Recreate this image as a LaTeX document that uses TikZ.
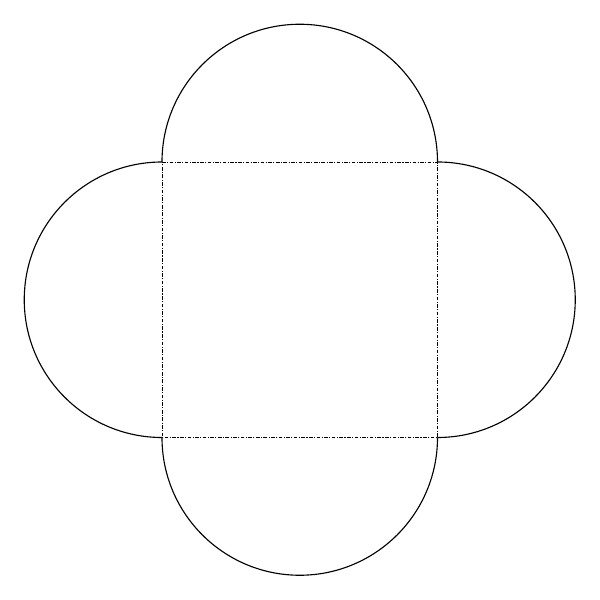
\documentclass[tikz,border=0pt]{standalone}
\begin{document}
\begin{tikzpicture}[x=0.025cm, y=0.025cm]
  \tikzset{fold/.style={line width=0.7pt, dash pattern=on 2.6pt off 1pt on 0.8pt off 1pt},
           flap/.style={line width=0.8pt}}
  \useasboundingbox (0, 0) rectangle (600, 600);
  \coordinate (tl) at (162, 438);
  \coordinate (tr) at (437.5, 438);
  \coordinate (br) at (437.5, 162.5);
  \coordinate (bl) at (162, 162.5);

  \draw[fold] (tl) -- (tr) -- (br) -- (bl) -- cycle;
  % flaps
  \draw[flap] (tl) arc[start angle=180, end angle=0, radius=137.75];
  \draw[flap] (tr) arc[start angle=90, end angle=-90, radius=137.75];
  \draw[flap] (br) arc[start angle=0, end angle=-180, radius=137.75];
  \draw[flap] (bl) arc[start angle=-90, end angle=-270, radius=137.75];
\end{tikzpicture}
\end{document}
